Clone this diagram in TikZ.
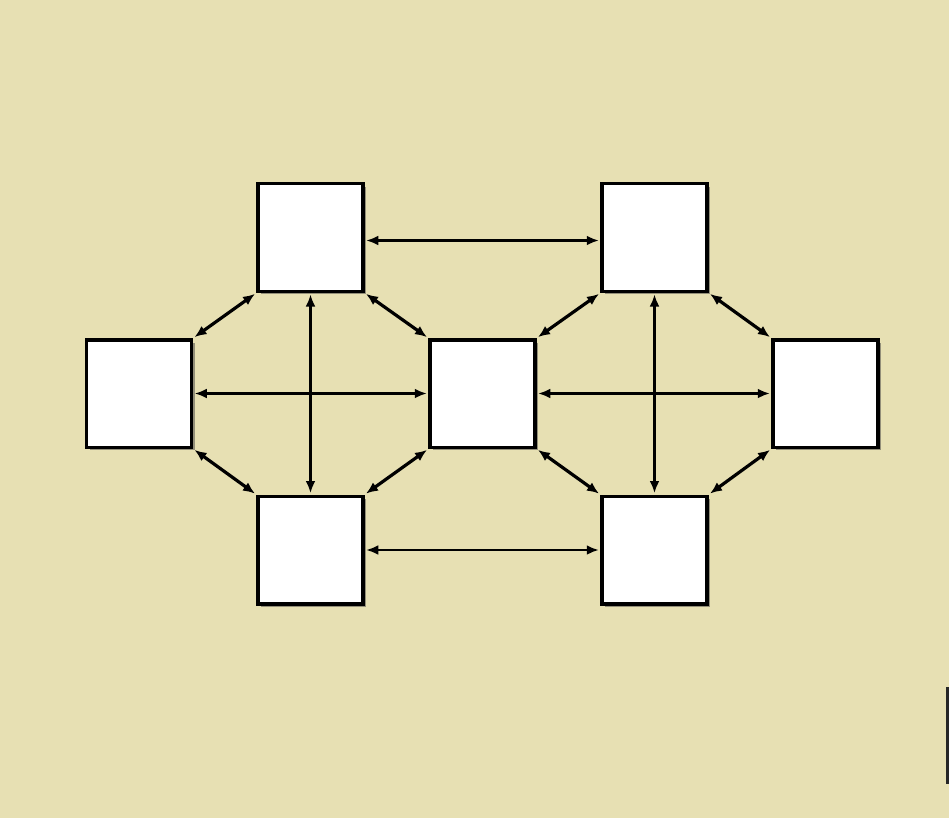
\documentclass[tikz,border=0pt]{standalone}
\usetikzlibrary{arrows.meta,shadows}
\definecolor{bg}{RGB}{231,224,179}
\begin{document}
\begin{tikzpicture}[x=1pt,y=-1pt,
 box/.style={draw=black,line width=3.5pt,fill=white,minimum width=105pt,minimum height=107.5pt,inner sep=0pt,
   drop shadow={shadow xshift=3pt,shadow yshift=-3pt,opacity=0.5,fill=black!75}},
 link/.style={{Latex[length=12pt,width=10pt]}-{Latex[length=12pt,width=10pt]},line width=2.4pt,shorten <=1.5pt,shorten >=1.5pt},
 dlink/.style={link,line width=3.2pt}]
\fill[bg] (0,0) rectangle (949,818);
\useasboundingbox (0,0) rectangle (949,818);
\node[box] (TL) at (310.5,237.5) {};
\node[box] (TR) at (654.5,237.5) {};
\node[box] (L) at (139,393.5) {};
\node[box] (C) at (482.5,393.5) {};
\node[box] (R) at (825.5,393.5) {};
\node[box] (BL) at (310.5,550) {};
\node[box] (BR) at (654.5,550) {};
% horizontals
\draw[link] ([yshift=-3pt]TL.east) -- ([yshift=-3pt]TR.west);
\draw[link] (BL.east) -- (BR.west);
\draw[link] (L.east) -- (C.west);
\draw[link] (C.east) -- (R.west);
% verticals
\draw[link] (TL.south) -- (BL.north);
\draw[link] (TR.south) -- (BR.north);
% diagonals
\draw[dlink] (TL.south west) -- (L.north east);
\draw[dlink] (TL.south east) -- (C.north west);
\draw[dlink] (BL.north west) -- (L.south east);
\draw[dlink] (BL.north east) -- (C.south west);
\draw[dlink] (TR.south west) -- (C.north east);
\draw[dlink] (TR.south east) -- (R.north west);
\draw[dlink] (BR.north west) -- (C.south east);
\draw[dlink] (BR.north east) -- (R.south west);
% edge artifact
\fill[black!85] (946,687) rectangle (949,784);
\end{tikzpicture}
\end{document}
